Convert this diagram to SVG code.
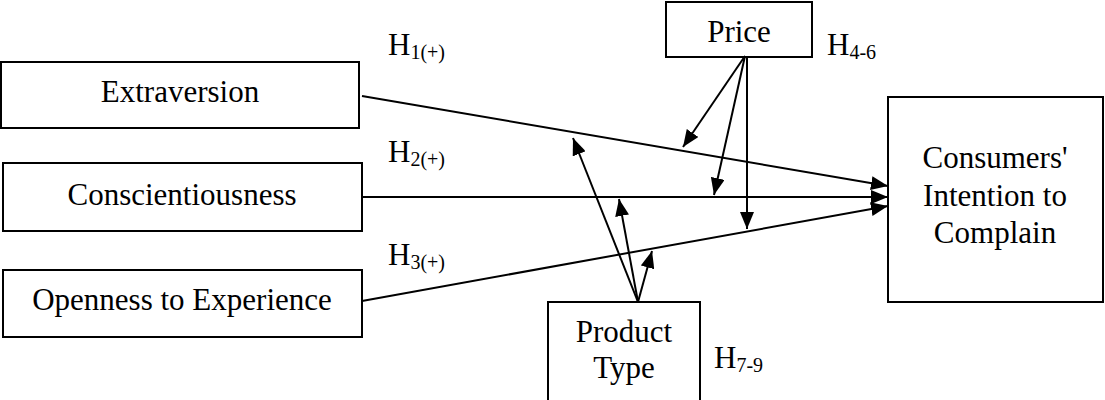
<svg xmlns="http://www.w3.org/2000/svg" width="1105" height="400" viewBox="0 0 1105 400">
<style>
.box{fill:#fff;stroke:#000;stroke-width:2}
.t{font-family:"Liberation Serif","Times New Roman",serif;font-size:31px;fill:#000}
.c{text-anchor:middle}
.sub{font-size:20px}
.ln{stroke:#000;stroke-width:2;fill:none;marker-end:url(#ah)}
</style>
<defs>
<marker id="ah" markerUnits="userSpaceOnUse" markerWidth="18" markerHeight="14" refX="17" refY="7" orient="auto">
<path d="M0,0 L17,7 L0,14 Z" fill="#000"/>
</marker>
</defs>
<g id="extraversion"><rect class="box" x="1" y="62" width="358" height="66"/><text class="t c" x="180" y="102">Extraversion</text></g>
<g id="conscientiousness"><rect class="box" x="3" y="163" width="359" height="68"/><text class="t c" x="182" y="205">Conscientiousness</text></g>
<g id="openness"><rect class="box" x="3" y="270" width="359" height="67"/><text class="t c" x="182" y="310">Openness to Experience</text></g>
<g id="price"><rect class="box" x="666" y="2" width="146" height="55"/><text class="t c" x="739" y="42">Price</text></g>
<g id="product-type"><rect class="box" x="548" y="302" width="152" height="110"/><text class="t c" x="624" y="342">Product</text><text class="t c" x="624" y="378">Type</text></g>
<g id="intention"><rect class="box" x="888" y="97" width="215" height="205"/><text class="t c" x="995" y="168">Consumers'</text><text class="t c" x="995" y="205.5">Intention to</text><text class="t c" x="995" y="243">Complain</text></g>
<g id="labels">
<text class="t" x="388" y="55">H<tspan class="sub" dy="4">1(+)</tspan></text>
<text class="t" x="388" y="162">H<tspan class="sub" dy="4">2(+)</tspan></text>
<text class="t" x="388" y="265">H<tspan class="sub" dy="4">3(+)</tspan></text>
<text class="t" x="827" y="55">H<tspan class="sub" dy="4">4-6</tspan></text>
<text class="t" x="714" y="368">H<tspan class="sub" dy="4">7-9</tspan></text>
</g>
<g id="connectors">
<line class="ln" x1="362" y1="96" x2="888" y2="186"/>
<line class="ln" x1="362" y1="197" x2="888" y2="197"/>
<line class="ln" x1="362" y1="301" x2="888" y2="206"/>
<line class="ln" x1="745" y1="56" x2="683" y2="147"/>
<line class="ln" x1="745" y1="56" x2="714" y2="195"/>
<line class="ln" x1="747" y1="56" x2="747" y2="229"/>
<line class="ln" x1="638" y1="302" x2="573" y2="138"/>
<line class="ln" x1="638" y1="302" x2="619" y2="199"/>
<line class="ln" x1="638" y1="302" x2="652" y2="251"/>
</g>
</svg>
